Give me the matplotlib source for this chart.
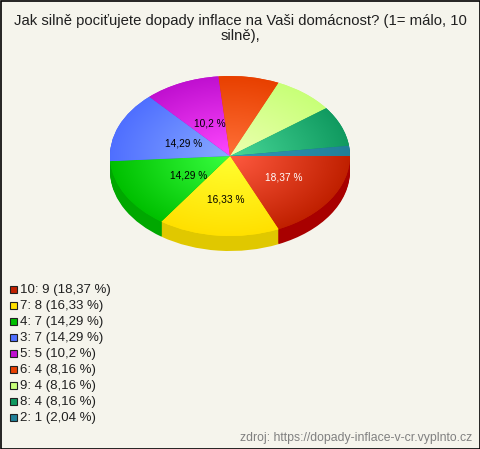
import numpy as np
import matplotlib
matplotlib.use("Agg")
import matplotlib.pyplot as plt
from matplotlib.colors import to_rgb
from matplotlib.patches import Rectangle

plt.rcParams['font.family'] = ['Liberation Sans', 'DejaVu Sans']

title = "Jak silně pociťujete dopady inflace na Vaši domácnost? (1= málo, 10\nsilně),"
source = "zdroj: https://dopady-inflace-v-cr.vyplnto.cz"
categories = ["10", "7", "4", "3", "5", "6", "9", "8", "2"]
values = [9, 8, 7, 7, 5, 4, 4, 4, 1]
percents = ["18,37", "16,33", "14,29", "14,29", "10,2", "8,16", "8,16", "8,16", "2,04"]

base_colors = ["#c02000", "#ffe000", "#00c000", "#4f6fff", "#c010d0", "#e84000", "#c8ff78", "#109a60", "#208098"]
light_colors = ["#ff5a40", "#ffff30", "#38ff40", "#88aaff", "#ff48ff", "#ff7038", "#ecffb0", "#48d898", "#3498b8"]
side_colors = ["#a80000", "#e0c800", "#00a800", "#3050c0", "#900090", "#b03000", "#a0d060", "#087040", "#106070"]
label_pos = [(284, 177), (226, 200), (189, 176), (184, 143), (210, 123)]
label_colors = ["white", "black", "black", "black", "black"]

W, H = 480, 449
cx, cy = 230, 156
rx, ry = 120, 80
depth = 15
bg = "#f5f4ec"

fig = plt.figure(figsize=(W / 100, H / 100), dpi=100, facecolor=bg)

# pie axes, unit circle squashed to an ellipse
ax = fig.add_axes([0, 0, 1, 1])
for d in np.arange(depth, 0, -1):
    ax.pie(values, colors=side_colors, startangle=0, counterclock=False,
           center=(0, -d / ry), radius=1, frame=True)
wedges, _ = ax.pie(values, colors=base_colors, startangle=0, counterclock=False,
                   center=(0, 0), radius=1, frame=True)

n = 300
gx, gy = np.meshgrid(np.linspace(-1, 1, n), np.linspace(-1, 1, n))
rad = np.clip(np.sqrt(gx ** 2 + gy ** 2), 0, 1)[..., None]
for w, base, light in zip(wedges, base_colors, light_colors):
    img = np.array(to_rgb(light)) * (1 - rad) + np.array(to_rgb(base)) * rad
    im = ax.imshow(img, extent=(-1, 1, -1, 1), origin="lower", aspect="auto",
                   interpolation="bilinear", zorder=3)
    im.set_clip_path(w)

ax.set_aspect("auto")
ax.set_xlim(-cx / rx, (W - cx) / rx)
ax.set_ylim((cy - H) / ry, cy / ry)
ax.axis("off")

# overlay in pixel coordinates for text
ov = fig.add_axes([0, 0, 1, 1])
ov.set_xlim(0, W)
ov.set_ylim(H, 0)
ov.axis("off")

ov.text(240, 28.5, title, ha="center", va="center", fontsize=10.7, color="#202020", linespacing=1.05)

for (x, y), pct, col in zip(label_pos, percents, label_colors):
    ov.text(x, y, pct + " %", ha="center", va="center", fontsize=7.3, color=col)

row_y = 289
for i, (cat, val, pct, col) in enumerate(zip(categories, values, percents, base_colors)):
    y = row_y + 16 * i
    ov.add_patch(Rectangle((9.5, y - 3.5), 7, 7, facecolor=col, edgecolor="#202020", linewidth=0.8))
    ov.text(20, y + 1.5, f"{cat}: {val} ({pct} %)", ha="left", va="center", fontsize=9.5, color="#202020")

ov.text(472, 438.5, source, ha="right", va="center", fontsize=8.8, color="#808080")

ov.add_patch(Rectangle((0.5, 0.5), W - 1, H - 1, fill=False, edgecolor="black", linewidth=1.2))

fig.savefig("out.png", dpi=100, facecolor=bg)
